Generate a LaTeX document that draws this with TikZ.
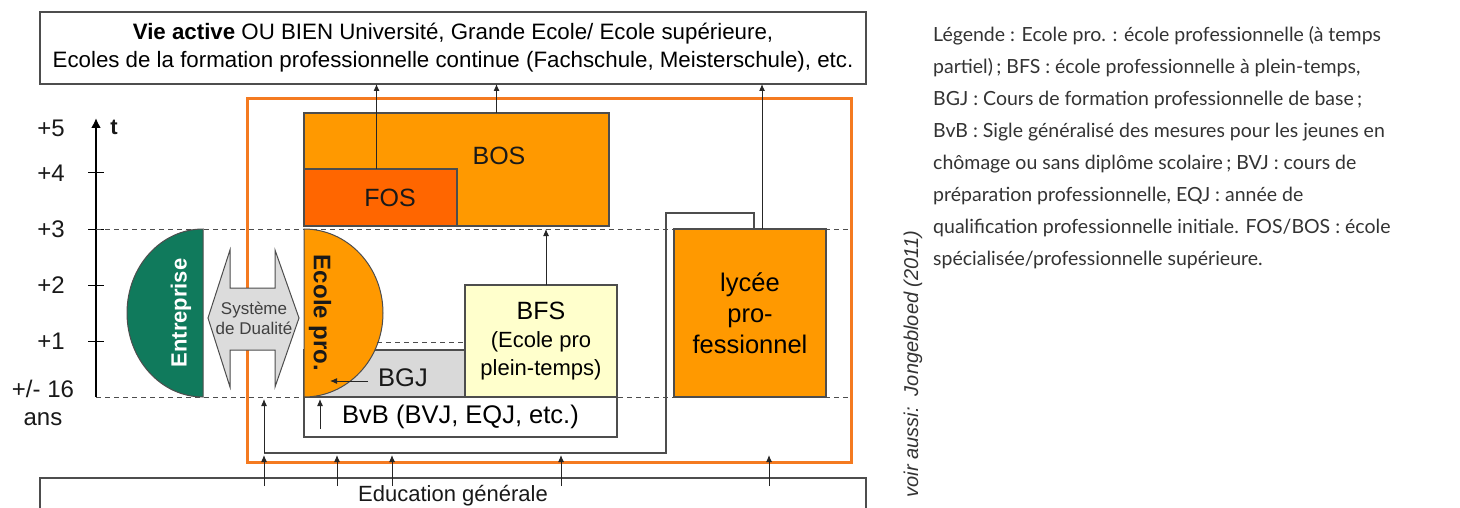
\documentclass[tikz,border=0pt]{standalone}
\usepackage{fontspec}
\setmainfont{Liberation Sans}
\newfontfamily\legendfont{Lato}
\usetikzlibrary{arrows.meta}

\definecolor{bosorange}{HTML}{FF9900}
\definecolor{fosorange}{HTML}{FF6600}
\definecolor{frameorange}{HTML}{F47A20}
\definecolor{entgreen}{HTML}{107A5C}
\definecolor{bfsyellow}{HTML}{FFFFCC}
\definecolor{bgjgray}{HTML}{D9D9D9}
\definecolor{dualgray}{HTML}{DCDCDC}
\definecolor{linegray}{HTML}{4D4D4D}
\definecolor{legendtext}{HTML}{333333}

\tikzset{
  box/.style={draw=linegray, line width=1.2pt, anchor=north west, inner sep=0pt, outer sep=0pt},
  arr/.style={draw=black!85, line width=1pt, -{Latex[length=7pt,width=6pt]}},
  dashline/.style={draw=linegray, line width=1pt, dash pattern=on 5pt off 4pt},
  route/.style={draw=linegray, line width=1.2pt},
  lbl/.style={text=black!90, inner sep=0pt}
}

\begin{document}
\begin{tikzpicture}[x=1pt,y=-1pt]
\useasboundingbox (0,0) rectangle (1460,508);

% axe du temps
\coordinate (t0) at (96,397);
\coordinate (t3) at (96,229);
\coordinate (ttop) at (96,118);
\draw[line width=2pt, -{Latex[length=10pt,width=10pt]}] (t0) -- (ttop);
\node[lbl, font=\bfseries\fontsize{22}{24}\selectfont] (tlbl) at (114,127) {t};
\foreach \y in {173,229,285,341}
  \draw[line width=1pt] (88,\y) -- (104,\y);
\foreach \y/\l in {128/+5,173/+4,229/+3,285/+2,341/+1}
  \node[lbl, anchor=east, font=\fontsize{24}{26}\selectfont] at (65,\y) {\l};
\node[lbl, font=\fontsize{24}{26}\selectfont] (ans16) at (43,389) {+/- 16};
\node[lbl, font=\fontsize{24}{26}\selectfont] (ans) at (43,419) {ans};

% cadre orange
\node[box, draw=frameorange, line width=3pt, minimum width=604pt, minimum height=363pt] (frame) at (247,99) {};

% lignes pointillees
\draw[dashline] (t3) -- (t3 -| frame.east);
\draw[dashline] (t0) -- (t0 -| frame.east);

% boites
\node[box] (vie) at (40,12) [fill=white, minimum width=826pt, minimum height=72pt, align=center,
  font=\fontsize{22.3}{28}\selectfont]
  {\textbf{Vie active} OU BIEN Université, Grande Ecole/ Ecole supérieure,\\
   Ecoles de la formation professionnelle continue (Fachschule, Meisterschule), etc.};
\node[box, fill=white, minimum width=826pt, minimum height=60pt] (edu) at (40,478) {};
\node[lbl, font=\fontsize{22}{24}\selectfont] (edulbl) at (453,496) {Education générale};

\node[box, fill=bosorange, minimum width=305pt, minimum height=113pt] (bos) at (304,113) {};
\node[lbl, font=\fontsize{25}{28}\selectfont] (boslbl) at (499,156) {BOS};
\node[box, fill=fosorange, minimum width=153pt, minimum height=57pt] (fos) at (304,169) {};
\node[lbl, font=\fontsize{25}{28}\selectfont] (foslbl) at (390,198) {FOS};

\node[box, fill=bgjgray, minimum width=161pt, minimum height=47pt] (bgj) at (304,350) {};
\node[lbl, font=\fontsize{25.5}{28}\selectfont] (bgjlbl) at (403,378) {BGJ};
\node[box, fill=white, minimum width=313pt, minimum height=40pt,
  font=\fontsize{25.5}{28}\selectfont] (bvb) at (304,397) {BvB (BVJ, EQJ, etc.)};
\node[box, fill=bfsyellow, minimum width=152pt, minimum height=112pt, align=center,
  font=\fontsize{22}{28}\selectfont] (bfs) at (465,285)
  {{\fontsize{25}{28}\selectfont BFS}\\(Ecole pro\\plein-temps)};
\node[box, fill=bosorange, minimum width=152pt, minimum height=168pt, align=center,
  font=\fontsize{25.5}{31}\selectfont] (lyc) at (674,229) {lycée\\pro-\\fessionnel};

% demi-disques
\filldraw[fill=entgreen, draw=linegray, line width=1pt]
  (203,229) arc[start angle=90, end angle=270, x radius=76pt, y radius=84pt] -- cycle;
\node[lbl, rotate=90, text=white, font=\bfseries\fontsize{22}{24}\selectfont] (entlbl) at (181,313) {Entreprise};
\filldraw[fill=bosorange, draw=linegray, line width=1pt]
  (304,229) arc[start angle=90, end angle=-90, x radius=79pt, y radius=84pt] -- cycle;
\node[lbl, rotate=-90, font=\bfseries\fontsize{24}{26}\selectfont] (ecolelbl) at (320,313) {Ecole pro.};

% systeme de dualite
\filldraw[fill=dualgray, draw=linegray, line width=1pt]
  (230,250) -- (230,288) -- (275,288) -- (275,250) -- (299,318) -- (275,387)
  -- (275,350) -- (230,350) -- (230,387) -- (208,318) -- cycle;
\node[lbl, align=center, text=black!75, font=\fontsize{17}{20}\selectfont] (dual) at (254,318) {Système\\de Dualité};

% pointilles BGJ
\coordinate (d1) at (377,342);
\draw[dashline] (d1) -- (d1 -| bfs.west);

% fleches vers le haut
\draw[arr] ([xshift=-4pt]fos.north) -- ([xshift=-4pt]fos.north |- vie.south);
\draw[arr] ([xshift=40pt]bos.north) -- ([xshift=40pt]bos.north |- vie.south);
\draw[arr] ([xshift=12pt]lyc.north) -- ([xshift=12pt]lyc.north |- vie.south);
\draw[arr] ([xshift=5pt]bfs.north) -- ([xshift=5pt,yshift=-3pt]bfs.north |- bos.south);

\coordinate (bgjarr) at (368,381);
\draw[arr] (bgjarr) -- (330,381);
\coordinate (bvbarr) at (320,429);
\draw[arr] (bvbarr) -- ([yshift=-2pt]bvbarr |- bvb.north);

% trajet vers le lycee
\coordinate (r1) at (264,453);
\coordinate (r2) at (666,213);
\draw[route] (r1) -| (r2) -| ([xshift=4pt]lyc.north);
\draw[arr] (r1) -- ([yshift=-2pt]r1 |- bvb.north);

% fleches depuis l'education generale
\foreach \x in {264,337,392,561,769} {
  \coordinate (u\x) at (\x,0);
  \draw[arr] ([yshift=-8pt]edu.north -| u\x) -- ([yshift=7pt]frame.south -| u\x);
}

% source et legende
\node[rotate=90, text=legendtext, font=\itshape\fontsize{20}{24}\selectfont] (credit) at (913,364)
  {voir aussi:\ \ Jongebloed (2011)};
\node[anchor=north west, inner sep=0pt, align=left, text=legendtext,
  font=\legendfont\fontsize{19.5}{32}\selectfont] (legend) at (933,26)
  {Légende : Ecole pro. : école professionnelle (à temps\\
   partiel)\,; BFS : école professionnelle à plein-temps,\\
   BGJ : Cours de formation professionnelle de base\,;\\
   BvB : Sigle généralisé des mesures pour les jeunes en\\
   chômage ou sans diplôme scolaire\,; BVJ : cours de\\
   préparation professionnelle, EQJ : année de\\
   qualification professionnelle initiale. FOS/BOS : école\\
   spécialisée/professionnelle supérieure.};
\end{tikzpicture}
\end{document}
